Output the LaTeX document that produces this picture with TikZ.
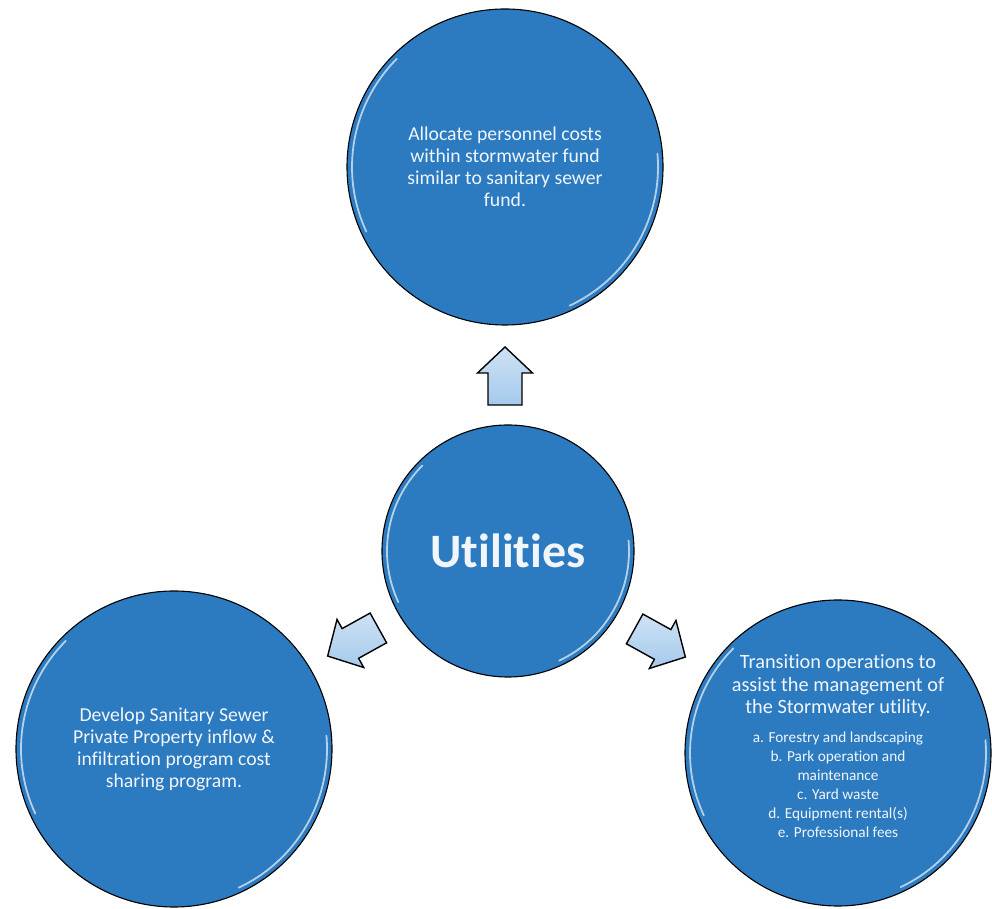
\documentclass[tikz,border=0pt]{standalone}
\usepackage{fontspec}
\setmainfont{Carlito}[Ligatures={NoCommon,NoContextual,NoRequired}]
\definecolor{ballblue}{RGB}{44,122,192}
\definecolor{arrowblue}{RGB}{165,202,236}
\definecolor{ballfg}{RGB}{240,246,252}
\tikzset{
  ball/.style={circle, draw=black, line width=1.1pt, fill=ballblue, text=ballfg, align=center, inner sep=0pt},
  gloss/.style={draw=white, line width=1.8pt, opacity=0.65, line cap=round},
  blockarrow/.style={draw=black, line width=1.4pt, line join=miter, top color=arrowblue!55!white, bottom color=arrowblue},
  bodytext/.style={font=\fontsize{19.7}{22}\selectfont},
  titletext/.style={text=ballfg, align=center, font=\fontsize{20.3}{22.5}\selectfont},
  listtext/.style={text=ballfg, align=center, font=\fontsize{15.3}{19}\selectfont}
}
\newcommand{\arrowshape}{(-29,-17) -- (3,-17) -- (3,-27.5) -- (29,0) -- (3,27.5) -- (3,17) -- (-29,17) -- cycle}
\begin{document}
\begin{tikzpicture}[x=1pt,y=1pt]
\useasboundingbox (0,0) rectangle (992,909);

% circles
\node[ball, minimum size=316pt, bodytext] (T) at (505,742)
  {Allocate personnel costs\\within stormwater fund\\similar to sanitary sewer\\fund.};
\node[ball, minimum size=252pt, font=\bfseries\fontsize{48}{55}\selectfont] (C) at (508,358) {Utilities};
\node[ball, minimum size=316pt, bodytext] (L) at (174,160)
  {Develop Sanitary Sewer\\Private Property inflow \&\\infiltration program cost\\sharing program.};
\node[ball, minimum size=306pt] (R) at (838,156) {};
\node[titletext] (Rt) at ([yshift=67pt]R.center)
  {Transition operations to\\assist the management of\\the Stormwater utility.};
\node[listtext] (Rl) at ([yshift=-32pt]R.center)
  {a. Forestry and landscaping\\b. Park operation and\\maintenance\\c. Yard waste\\d. Equipment rental(s)\\e. Professional fees};

% glossy highlights
\foreach \n/\r in {T/153, L/153, R/148, C/121}{
  \draw[gloss] ([shift={(135:\r)}]\n.center) arc[start angle=135, end angle=205, radius=\r];
  \draw[gloss] ([shift={(-65:\r)}]\n.center) arc[start angle=-65, end angle=5, radius=\r];
}

% block arrows
\begin{scope}[shift={(505,533)}, rotate=90]
  \draw[blockarrow] \arrowshape;
\end{scope}
\begin{scope}[shift={(353,267)}, rotate=209]
  \draw[blockarrow] \arrowshape;
\end{scope}
\begin{scope}[shift={(660,266)}, rotate=-29]
  \draw[blockarrow] \arrowshape;
\end{scope}
\end{tikzpicture}
\end{document}
